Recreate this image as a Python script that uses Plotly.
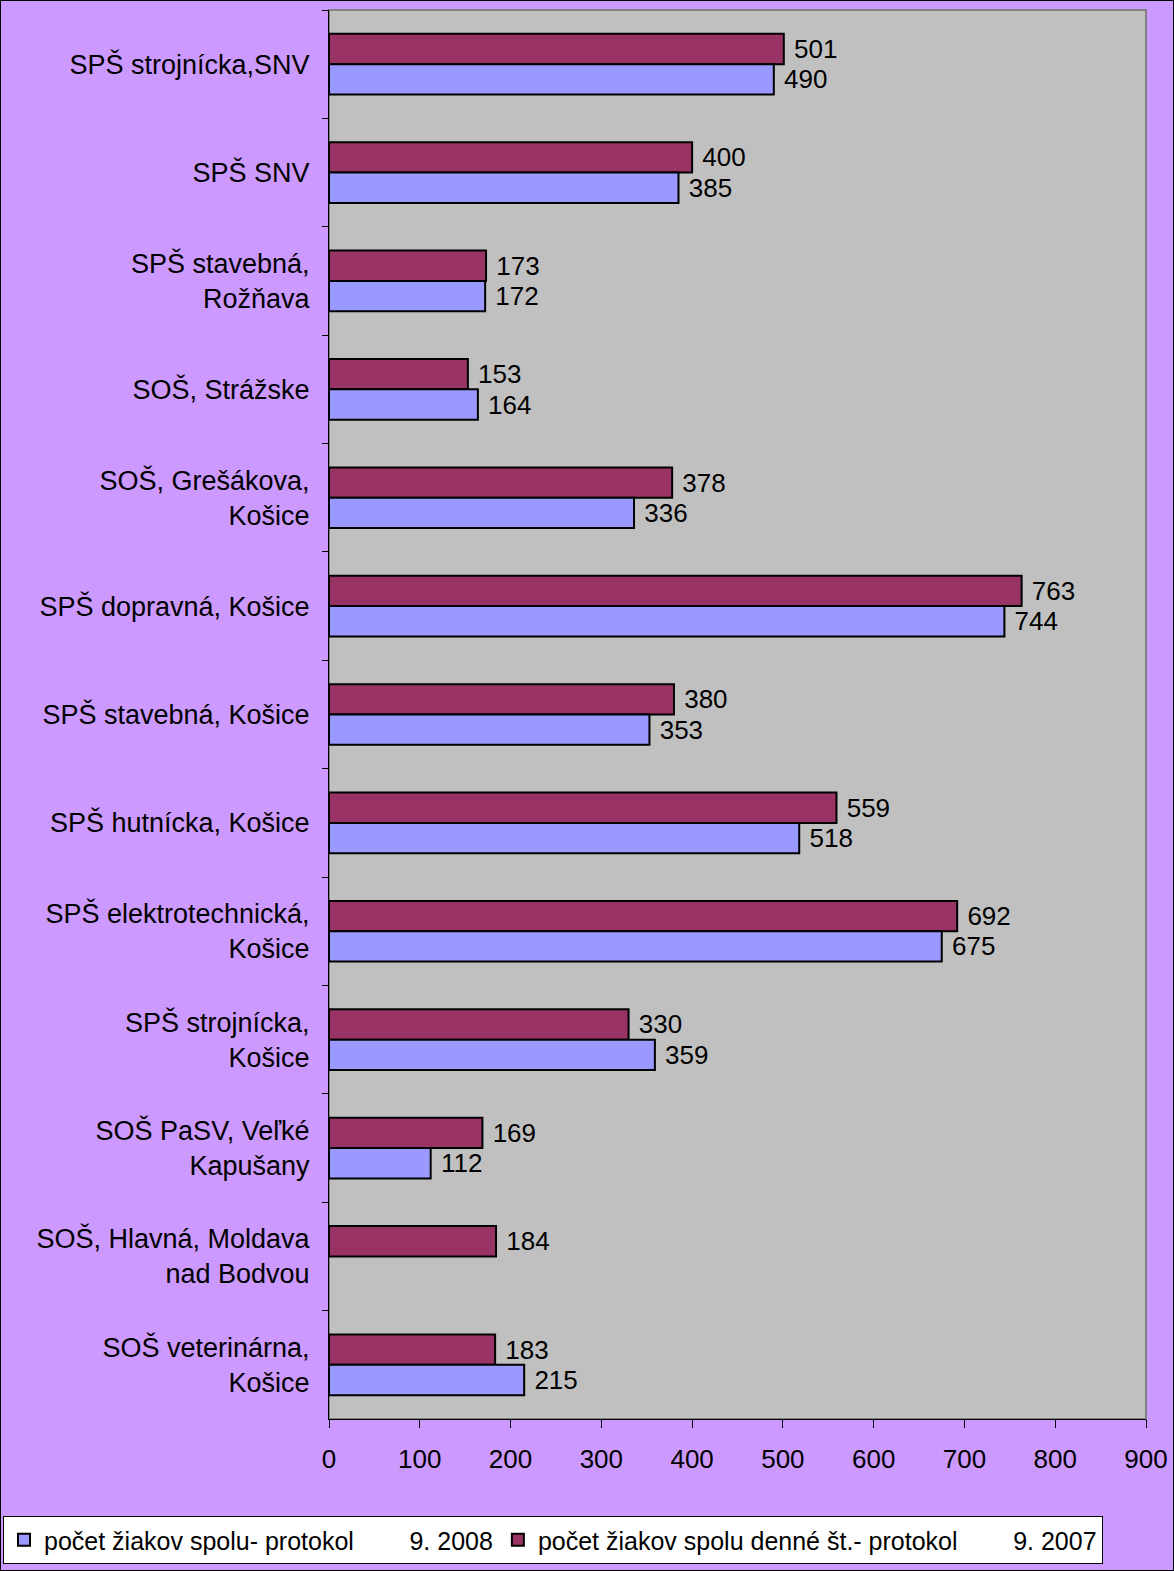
import plotly.graph_objects as go

categories = [
    "SPŠ strojnícka,SNV",
    "SPŠ SNV",
    "SPŠ stavebná,<br>Rožňava",
    "SOŠ, Strážske",
    "SOŠ, Grešákova,<br>Košice",
    "SPŠ dopravná, Košice",
    "SPŠ stavebná, Košice",
    "SPŠ hutnícka, Košice",
    "SPŠ elektrotechnická,<br>Košice",
    "SPŠ strojnícka,<br>Košice",
    "SOŠ PaSV, Veľké<br>Kapušany",
    "SOŠ, Hlavná, Moldava<br>nad Bodvou",
    "SOŠ veterinárna,<br>Košice",
]
values_2007 = [501, 400, 173, 153, 378, 763, 380, 559, 692, 330, 169, 184, 183]
values_2008 = [490, 385, 172, 164, 336, 744, 353, 518, 675, 359, 112, None, 215]
name_2008 = "počet žiakov spolu- protokol" + "\u00a0" * 8 + "9. 2008"
name_2007 = "počet žiakov spolu denné št.- protokol" + "\u00a0" * 8 + "9. 2007"
x_ticks = [0, 100, 200, 300, 400, 500, 600, 700, 800, 900]

FONT = "Liberation Sans, Arial, sans-serif"
FS = 27

def labels(vals):
    return ["" if v is None else "\u00a0" + str(v) for v in vals]

fig = go.Figure()
fig.add_trace(go.Bar(
    y=categories, x=values_2007, orientation="h", name=name_2007,
    marker=dict(color="#993366", line=dict(color="black", width=2)),
    text=labels(values_2007), textposition="outside",
    textfont=dict(size=26, color="black", family=FONT),
    cliponaxis=False, legendrank=2,
))
fig.add_trace(go.Bar(
    y=categories, x=values_2008, orientation="h", name=name_2008,
    marker=dict(color="#9999FF", line=dict(color="black", width=2)),
    text=labels(values_2008), textposition="outside",
    textfont=dict(size=26, color="black", family=FONT),
    cliponaxis=False, legendrank=1,
))

W, H = 1174, 1571
L, R, T, B = 329, 28, 10, 152
pw, ph = W - L - R, H - T - B

fig.update_layout(
    width=W, height=H,
    margin=dict(l=L, r=R, t=T, b=B, autoexpand=False),
    paper_bgcolor="#CC99FF",
    plot_bgcolor="#C0C0C0",
    barmode="group",
    bargap=0.44,
    bargroupgap=0,
    font=dict(family=FONT, size=FS, color="black"),
    showlegend=True,
    legend=dict(
        orientation="h",
        x=(3 - L) / pw, xanchor="left",
        y=-(1516 - (T + ph)) / ph, yanchor="top",
        bgcolor="white", bordercolor="black", borderwidth=1,
        font=dict(size=25, family=FONT),
        itemwidth=30, tracegroupgap=0,
    ),
    xaxis=dict(
        range=[0, 900], tickvals=x_ticks, showgrid=False, zeroline=False,
        showline=True, linecolor="black", linewidth=1, automargin=False,
        ticks="outside", ticklen=8, tickcolor="black",
        tickfont=dict(size=26), ticklabelstandoff=9,
    ),
    yaxis=dict(
        autorange="reversed", type="category", showgrid=False,
        showline=True, linecolor="black", linewidth=1, automargin=False,
        ticks="outside", ticklen=6, tickcolor="black", tickson="boundaries",
        tickfont=dict(size=FS), ticklabelstandoff=13,
    ),
    shapes=[
        dict(type="rect", xref="paper", yref="paper", x0=0, x1=1, y0=0, y1=1,
             line=dict(color="#808080", width=2), layer="below"),
        dict(type="rect", xref="paper", yref="paper",
             x0=-L / pw, x1=1 + R / pw, y0=-B / ph, y1=1 + T / ph,
             line=dict(color="black", width=2), layer="above"),
    ],
)

fig.write_html(
    "out.html",
    config={"displayModeBar": False},
    post_script="document.body.style.margin='0';document.body.style.overflow='hidden';",
)
